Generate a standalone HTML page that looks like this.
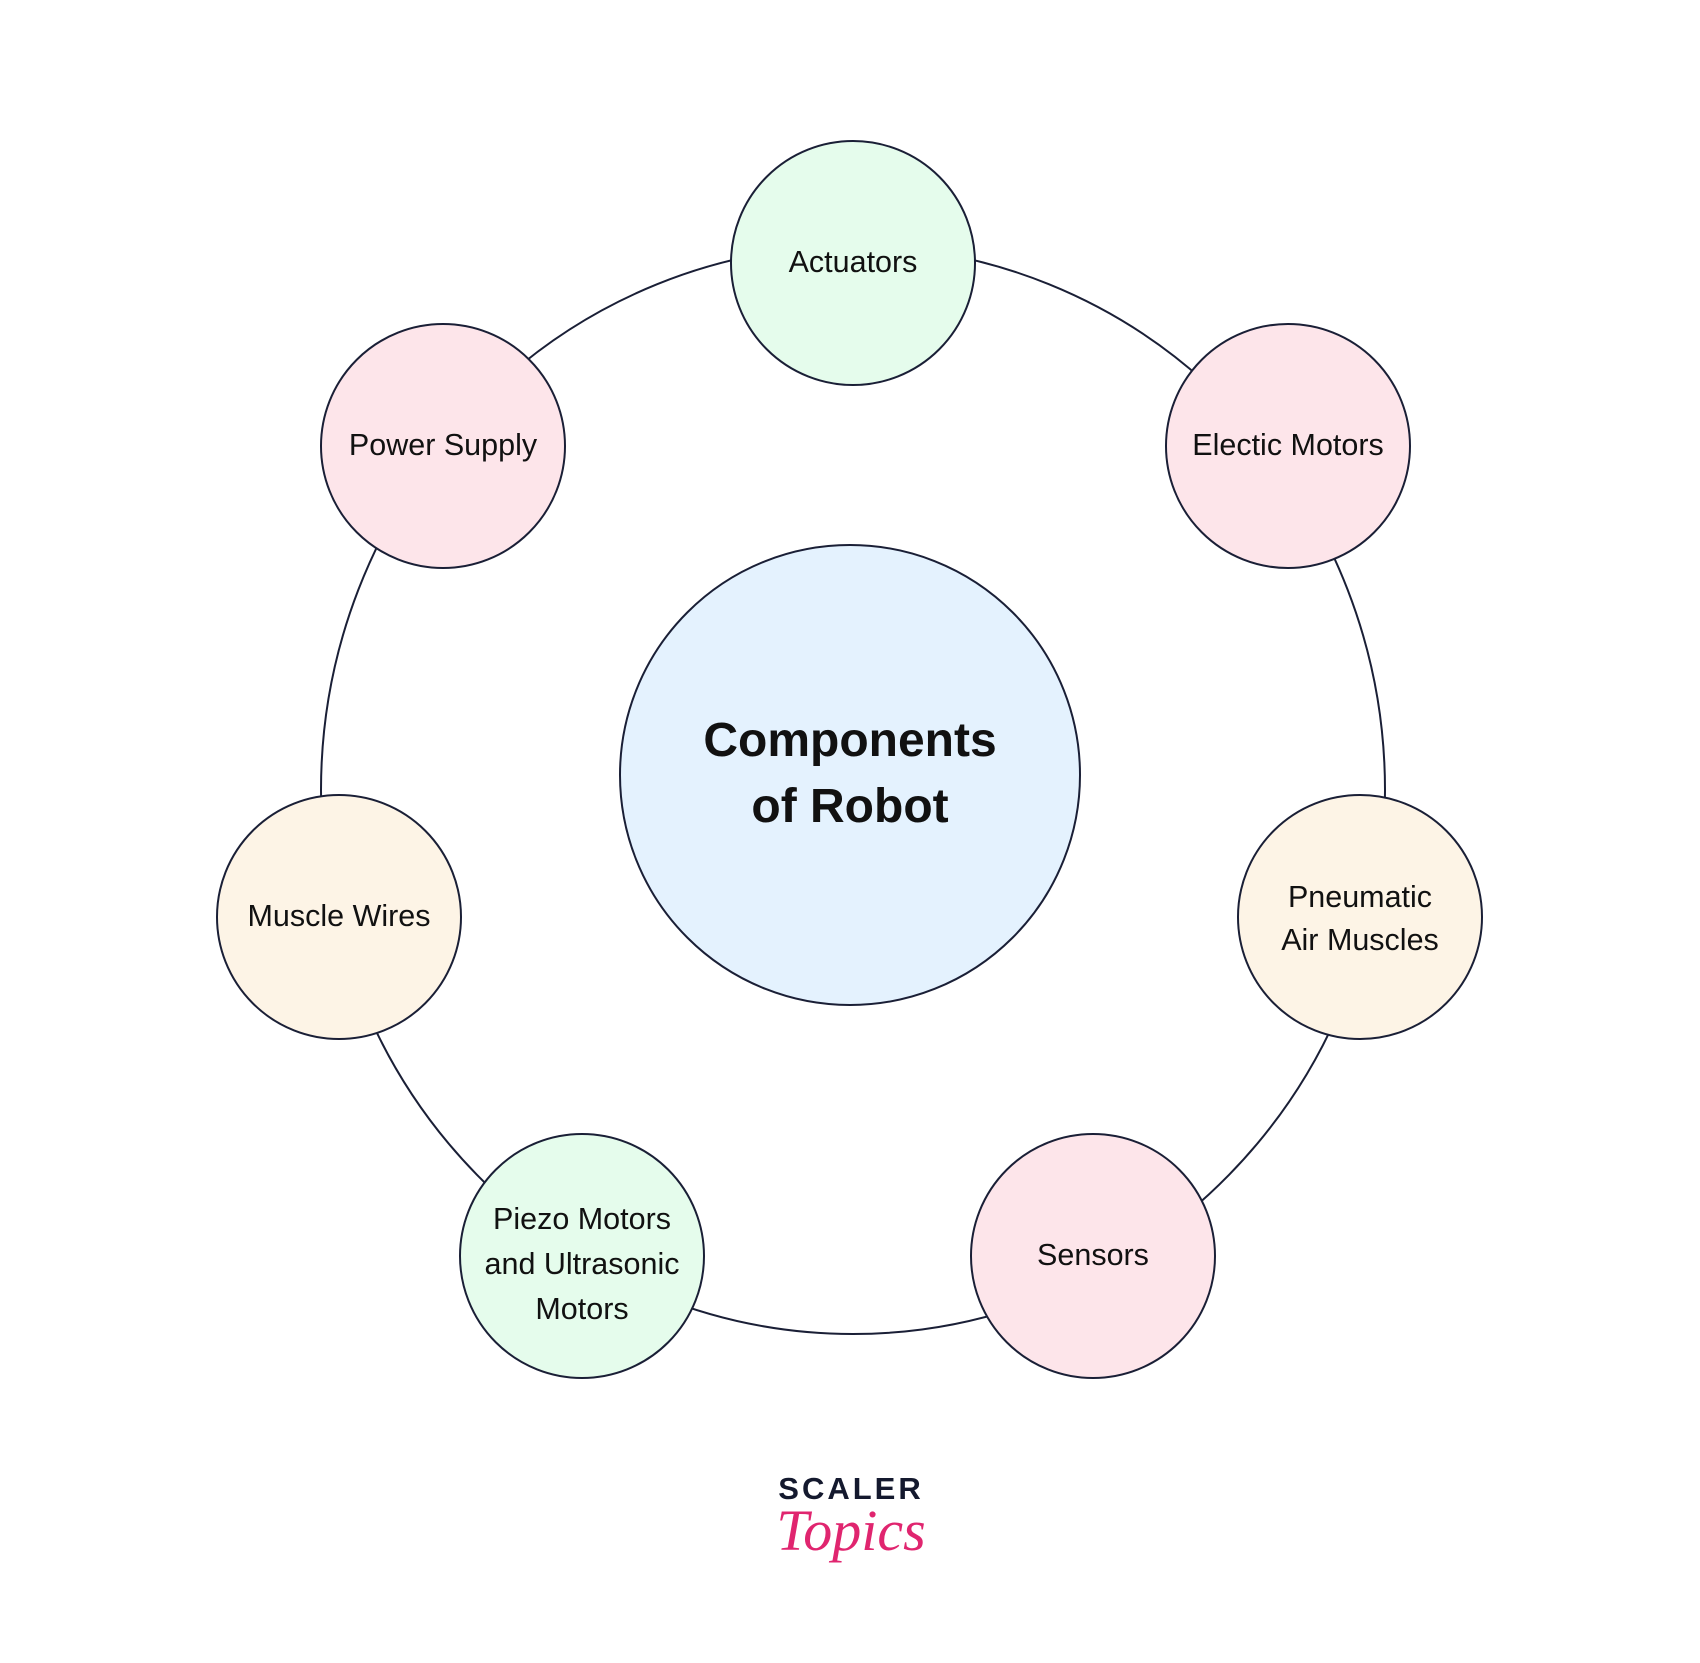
<!DOCTYPE html>
<html><head><meta charset="utf-8"><style>
html,body{margin:0;padding:0;background:#fff}
svg text{font-family:"Liberation Sans",sans-serif;fill:#111}
</style></head><body>
<svg width="1700" height="1658" viewBox="0 0 1700 1658" xmlns="http://www.w3.org/2000/svg">
<ellipse cx="853" cy="790" rx="532" ry="544" fill="none" stroke="#1a1f36" stroke-width="2"/>
<g stroke="#1a1f36" stroke-width="2">
<circle cx="850" cy="775" r="230" fill="#e4f2fe"/>
<circle cx="853" cy="263" r="122" fill="#e5fcec"/>
<circle cx="443" cy="446" r="122" fill="#fde5ea"/>
<circle cx="1288" cy="446" r="122" fill="#fde5ea"/>
<circle cx="339" cy="917" r="122" fill="#fdf4e6"/>
<circle cx="1360" cy="917" r="122" fill="#fdf4e6"/>
<circle cx="582" cy="1256" r="122" fill="#e5fcec"/>
<circle cx="1093" cy="1256" r="122" fill="#fde5ea"/>
</g>
<g font-size="30.5" text-anchor="middle">
<text x="853" y="272">Actuators</text>
<text x="443" y="455">Power Supply</text>
<text x="1288" y="455">Electic Motors</text>
<text x="339" y="926">Muscle Wires</text>
<text x="1360" y="907">Pneumatic</text>
<text x="1360" y="950">Air Muscles</text>
<text x="582" y="1229">Piezo Motors</text>
<text x="582" y="1274">and Ultrasonic</text>
<text x="582" y="1319">Motors</text>
<text x="1093" y="1265">Sensors</text>
</g>
<g font-size="48" font-weight="bold" text-anchor="middle">
<text x="850" y="756">Components</text>
<text x="850" y="822">of Robot</text>
</g>
<text x="851" y="1499" font-size="31" font-weight="bold" text-anchor="middle" letter-spacing="3" style="fill:#14192e">SCALER</text>
<text x="851" y="1550" font-size="58" font-style="italic" text-anchor="middle" style="fill:#e0256f;font-family:'Liberation Serif',serif">Topics</text>
</svg>
</body></html>
